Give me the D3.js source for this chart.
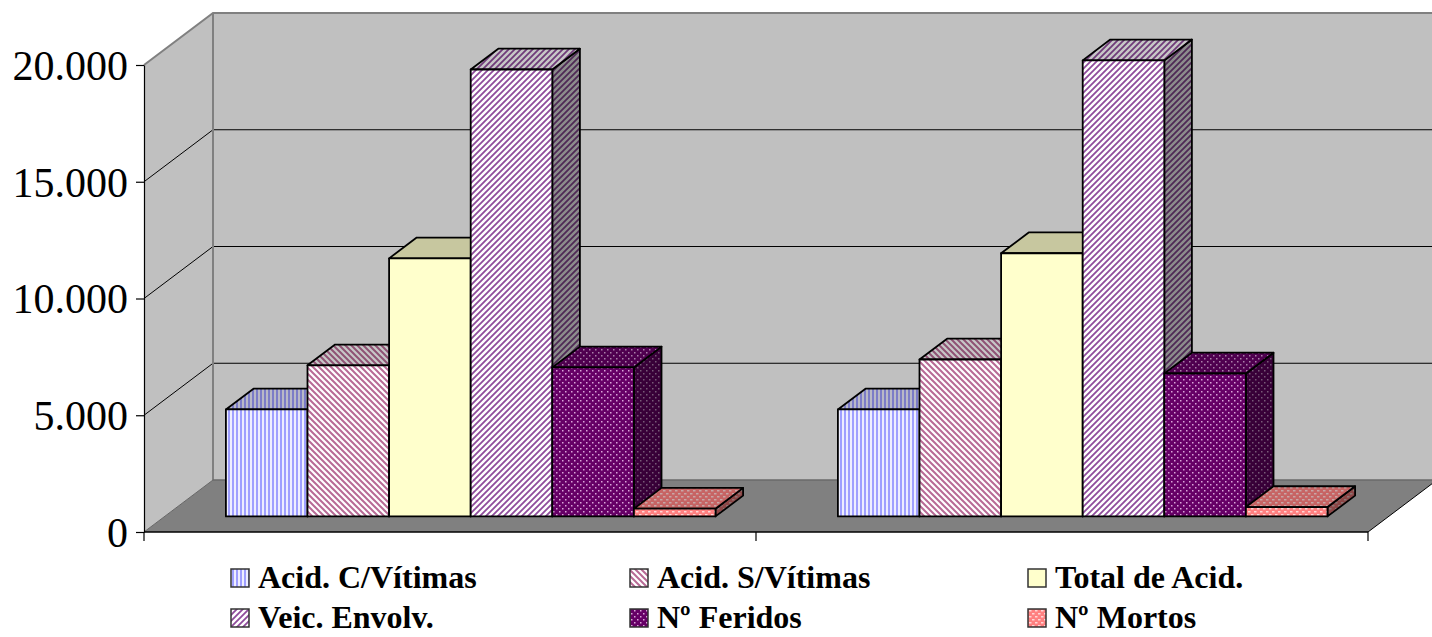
<!DOCTYPE html>
<html>
<head>
<meta charset="utf-8">
<script src="https://cdn.jsdelivr.net/npm/d3@7"></script>
<style>
  html, body { margin: 0; padding: 0; background: #ffffff; }
  svg { display: block; }
</style>
</head>
<body>
<svg id="chart" width="1432" height="637"></svg>
<script>
// ---------------- data ----------------
const categories = ["Período 1", "Período 2"];
const series = ["Acid. C/Vítimas", "Acid. S/Vítimas", "Total de Acid.", "Veic. Envolv.", "Nº Feridos", "Nº Mortos"];
const valuesPeriod1 = [4580, 6470, 11050, 19140, 6380, 330];
const valuesPeriod2 = [4580, 6720, 11270, 19530, 6120, 400];
const yTicks = [0, 5000, 10000, 15000, 20000];

const table = categories.map((c, i) => ({
  category: c,
  values: series.map((s, j) => ({ series: s, value: [valuesPeriod1, valuesPeriod2][i][j] }))
}));

// ---------------- setup ----------------
const svg = d3.select("#chart");
const DX = 69, DY = -52;          // full depth offset of the 3D box
const frontT = 0.3, backT = 0.7;  // bar depth inside the box

const y = d3.scaleLinear().domain([0, 20000]).range([532, 65]);
const x0 = d3.scaleBand().domain(categories).range([144, 1368]).padding(0);
const x1 = d3.scaleBand().domain(series).range([0, x0.bandwidth()]).paddingInner(0).paddingOuter(0.75);

const fmt = d3.formatLocale({ decimal: ",", thousands: ".", grouping: [3], currency: ["", ""] }).format(",");

// ---------------- patterns ----------------
const defs = svg.append("defs");
function pat(id, w, h, bg, draw) {
  const p = defs.append("pattern").attr("id", id).attr("patternUnits", "userSpaceOnUse")
    .attr("width", w).attr("height", h);
  p.append("rect").attr("width", w).attr("height", h).attr("fill", bg);
  draw(p);
}
pat("pC", 4, 4, "#eeeeff", p => p.append("rect").attr("x", 0).attr("y", 0).attr("width", 2).attr("height", 4).attr("fill", "#9f9fff"));
pat("pS", 6, 6, "#ffffff", p => {
  p.append("path").attr("d", "M-1,-1 L7,7 M-1,5 L1,7 M5,-1 L7,1").attr("stroke", "#b86a95").attr("stroke-width", 2);
});
pat("pT", 4, 4, "#ffffcc", p => {});
pat("pV", 6, 6, "#ffffff", p => {
  p.append("path").attr("d", "M-1,7 L7,-1 M-1,1 L1,-1 M5,7 L7,5").attr("stroke", "#8f4c9c").attr("stroke-width", 1.8);
});
pat("pF", 6, 6, "#660066", p => {
  p.append("rect").attr("x", 1).attr("y", 1).attr("width", 1.5).attr("height", 1.5).attr("fill", "#d9a6d9");
  p.append("rect").attr("x", 4).attr("y", 4).attr("width", 1.5).attr("height", 1.5).attr("fill", "#d9a6d9");
});
pat("pM", 6, 6, "#ff8080", p => {
  p.append("rect").attr("x", 0).attr("y", 1).attr("width", 2.5).attr("height", 1.5).attr("fill", "#ffd6d6");
  p.append("rect").attr("x", 3).attr("y", 4).attr("width", 2.5).attr("height", 1.5).attr("fill", "#ffd6d6");
});
const fills = d3.scaleOrdinal().domain(series).range(["url(#pC)", "url(#pS)", "url(#pT)", "url(#pV)", "url(#pF)", "url(#pM)"]);

// ---------------- walls & floor ----------------
const x0L = x0.range()[0], x0R = x0.range()[1];
const yTop = y(20000), yBase = y(0);
const line = d3.line();

svg.append("path")
  .attr("d", line([[x0L + DX, yTop + DY], [x0R + DX, yTop + DY], [x0R + DX, yBase + DY], [x0L + DX, yBase + DY]]) + "Z")
  .attr("fill", "#c0c0c0");
svg.append("path")
  .attr("d", line([[x0L, yBase], [x0L, yTop], [x0L + DX, yTop + DY], [x0L + DX, yBase + DY]]) + "Z")
  .attr("fill", "#c0c0c0");
svg.append("path")
  .attr("d", line([[x0L, yBase], [x0R, yBase], [x0R + DX, yBase + DY], [x0L + DX, yBase + DY]]) + "Z")
  .attr("fill", "#808080");

yTicks.filter(v => v > 0 && v < 20000).forEach(v => {
  svg.append("path")
    .attr("d", line([[x0L, y(v)], [x0L + DX, y(v) + DY], [x0R + DX, y(v) + DY]]))
    .attr("fill", "none").attr("stroke", "#000").attr("stroke-width", 1);
});
svg.append("path")
  .attr("d", line([[x0L, yTop], [x0L + DX, yTop + DY], [x0R + DX, yTop + DY]]))
  .attr("fill", "none").attr("stroke", "#808080").attr("stroke-width", 2);
svg.append("path")
  .attr("d", line([[x0L + DX, yTop + DY], [x0L + DX, yBase + DY]]))
  .attr("fill", "none").attr("stroke", "#808080").attr("stroke-width", 2);
svg.append("path")
  .attr("d", line([[x0L + DX, yBase + DY], [x0R + DX, yBase + DY]]))
  .attr("fill", "none").attr("stroke", "#6a6a6a").attr("stroke-width", 1.5);
svg.append("path")
  .attr("d", line([[x0L, yBase], [x0L + DX, yBase + DY]]))
  .attr("fill", "none").attr("stroke", "#666").attr("stroke-width", 1);
svg.append("path")
  .attr("d", line([[x0R, yBase], [x0R + DX, yBase + DY]]))
  .attr("fill", "none").attr("stroke", "#000").attr("stroke-width", 1);

// ---------------- bars ----------------
const barsG = svg.append("g");
table.forEach(g => {
  g.values.forEach(d => {
    const xl = x0(g.category) + x1(d.series) + DX * frontT;
    const xr = xl + x1.bandwidth();
    const yb = y(0) + DY * frontT;
    const yt = y(d.value) + DY * frontT;
    const ddx = DX * (backT - frontT), ddy = DY * (backT - frontT);
    const bar = barsG.append("g");
    const f = fills(d.series);
    const front = [[xl, yt], [xr, yt], [xr, yb], [xl, yb]];
    const top = [[xl, yt], [xl + ddx, yt + ddy], [xr + ddx, yt + ddy], [xr, yt]];
    const side = [[xr, yt], [xr + ddx, yt + ddy], [xr + ddx, yb + ddy], [xr, yb]];
    bar.append("path").attr("d", line(side) + "Z").attr("fill", f);
    bar.append("path").attr("d", line(side) + "Z").attr("fill", "#000").attr("fill-opacity", 0.45)
      .attr("stroke", "#000").attr("stroke-width", 1.8).attr("stroke-linejoin", "round");
    bar.append("path").attr("d", line(top) + "Z").attr("fill", f);
    bar.append("path").attr("d", line(top) + "Z").attr("fill", "#000").attr("fill-opacity", 0.22)
      .attr("stroke", "#000").attr("stroke-width", 1.8).attr("stroke-linejoin", "round");
    bar.append("path").attr("d", line(front) + "Z").attr("fill", f)
      .attr("stroke", "#000").attr("stroke-width", 1.8).attr("stroke-linejoin", "round");
  });
});

// ---------------- axes ----------------
const yAxis = d3.axisLeft(y).tickValues(yTicks).tickSize(8).tickSizeOuter(0).tickPadding(8).tickFormat(fmt);
const yAxisG = svg.append("g").attr("transform", `translate(${x0L},0)`).call(yAxis);
yAxisG.select(".domain").attr("stroke", "#000").attr("stroke-width", 1.2);
yAxisG.selectAll(".tick line").attr("stroke", "#000").attr("stroke-width", 1.2);
yAxisG.selectAll(".tick text")
  .attr("fill", "#000")
  .style("font-family", "'Liberation Serif', 'Times New Roman', serif")
  .style("font-size", "42px")
  .attr("dy", "0.34em");

const catBounds = categories.map(c => x0(c)).concat([x0R]);
svg.append("path").attr("d", line([[x0L, yBase], [x0R, yBase]]))
  .attr("stroke", "#000").attr("stroke-width", 1.5).attr("fill", "none");
svg.selectAll("line.cattick").data(catBounds).join("line")
  .attr("class", "cattick")
  .attr("x1", d => d).attr("x2", d => d)
  .attr("y1", yBase).attr("y2", yBase + 9)
  .attr("stroke", "#000").attr("stroke-width", 1.2);

// ---------------- legend ----------------
const legCols = [231, 630, 1028];
const legRows = [569, 609];
const leg = svg.append("g");
series.forEach((s, i) => {
  const lx = legCols[i % 3], ly = legRows[Math.floor(i / 3)];
  leg.append("rect").attr("x", lx).attr("y", ly).attr("width", 18).attr("height", 18)
    .attr("fill", fills(s)).attr("stroke", "#333").attr("stroke-width", 1.5);
  leg.append("text").attr("x", lx + 27).attr("y", ly + 19)
    .text(s)
    .style("font-family", "'Liberation Serif', 'Times New Roman', serif")
    .style("font-weight", "bold")
    .style("font-size", "32px")
    .attr("fill", "#000");
});
</script>
</body>
</html>
